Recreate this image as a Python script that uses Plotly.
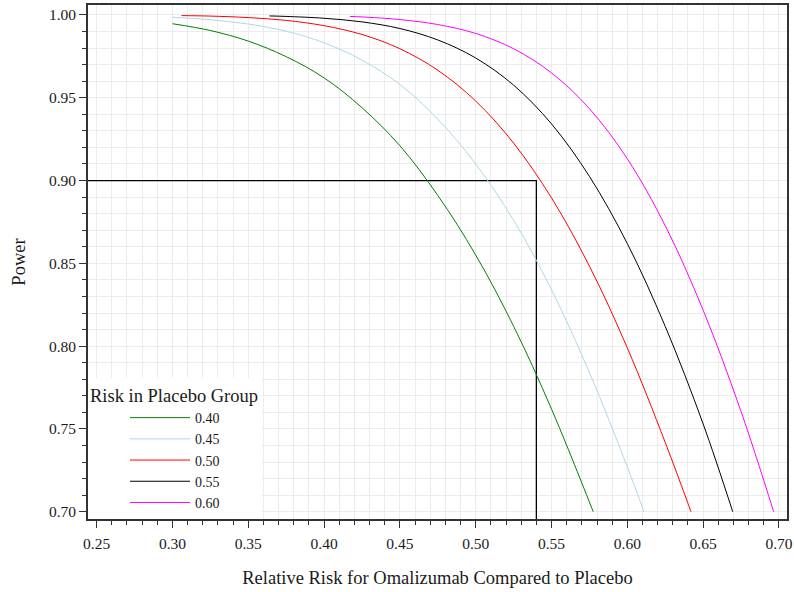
import plotly.graph_objects as go

# ---- data ----
rr_040 = [0.300, 0.325, 0.350, 0.375, 0.400, 0.425, 0.450, 0.475, 0.500, 0.525, 0.550, 0.5775]
pw_040 = [0.9947, 0.9906, 0.9842, 0.9748, 0.9620, 0.9440, 0.9210, 0.8910, 0.8550, 0.8120, 0.7620, 0.7000]

rr_045 = [0.300, 0.325, 0.350, 0.375, 0.400, 0.425, 0.450, 0.475, 0.500, 0.525, 0.550, 0.575, 0.600, 0.611]
pw_045 = [0.9986, 0.9971, 0.9945, 0.9902, 0.9832, 0.9727, 0.9580, 0.9370, 0.9100, 0.8760, 0.8340, 0.7840, 0.7270, 0.7000]

rr_050 = [0.306, 0.325, 0.350, 0.375, 0.400, 0.425, 0.450, 0.475, 0.500, 0.525, 0.550, 0.575, 0.600, 0.625, 0.642]
pw_050 = [0.9996, 0.9993, 0.9984, 0.9967, 0.9935, 0.9882, 0.9796, 0.9666, 0.9480, 0.9226, 0.8895, 0.8483, 0.7989, 0.7418, 0.7000]

rr_055 = [0.364, 0.375, 0.400, 0.425, 0.450, 0.475, 0.500, 0.525, 0.550, 0.575, 0.600, 0.625, 0.650, 0.6695]
pw_055 = [0.9994, 0.9991, 0.9980, 0.9958, 0.9918, 0.9849, 0.9740, 0.9576, 0.9342, 0.9025, 0.8619, 0.8119, 0.7530, 0.7000]

rr_060 = [0.417, 0.425, 0.450, 0.475, 0.500, 0.525, 0.550, 0.575, 0.600, 0.625, 0.650, 0.675, 0.6965]
pw_060 = [0.9991, 0.9988, 0.9972, 0.9942, 0.9888, 0.9796, 0.9650, 0.9434, 0.9131, 0.8727, 0.8217, 0.7605, 0.7000]

series_names = ["0.40", "0.45", "0.50", "0.55", "0.60"]
series_colors = ["green", "lightblue", "red", "black", "magenta"]
series_x = [rr_040, rr_045, rr_050, rr_055, rr_060]
series_y = [pw_040, pw_045, pw_050, pw_055, pw_060]

ref_rr = 0.54
ref_power = 0.90

x_range = [0.2443, 0.7053]
y_range = [0.6956, 1.006]
x_ticks = [0.25, 0.30, 0.35, 0.40, 0.45, 0.50, 0.55, 0.60, 0.65, 0.70]
y_ticks = [0.70, 0.75, 0.80, 0.85, 0.90, 0.95, 1.00]

FONT = "Liberation Serif"

fig = go.Figure()

# reference lines (power 0.90 at RR 0.54)
fig.add_trace(go.Scatter(
    x=[x_range[0], ref_rr, ref_rr], y=[ref_power, ref_power, y_range[0]],
    mode="lines", line=dict(color="black", width=1.3), showlegend=False,
    hoverinfo="skip"))

for name, color, xs, ys in zip(series_names, series_colors, series_x, series_y):
    fig.add_trace(go.Scatter(
        x=xs, y=ys, mode="lines", name=name,
        line=dict(color=color, width=1, shape="spline", smoothing=1.0)))

grid_col = "#ececec"
axis_common = dict(
    showline=True, linecolor="#333333", linewidth=1.6, mirror=True,
    ticks="outside", ticklen=7, tickwidth=1.2, tickcolor="#333333",
    showgrid=True, gridcolor=grid_col, gridwidth=1,
    zeroline=False, tickformat=".2f", automargin=False,
    tickfont=dict(family=FONT, size=15.5, color="#1a1a1a"),
    title_font=dict(family=FONT, size=18.5, color="#1a1a1a"),
)

fig.update_xaxes(
    **axis_common, range=x_range, tickvals=x_ticks,
    title_text="Relative Risk for Omalizumab Compared to Placebo",
    title_standoff=20, ticklabelstandoff=3,
    minor=dict(dtick=0.01, tick0=0.25, showgrid=True, gridcolor=grid_col, gridwidth=1,
               ticks="outside", ticklen=4, tickcolor="#333333"),
)
fig.update_yaxes(
    **axis_common, range=y_range, tickvals=y_ticks,
    title_text="Power", title_standoff=18,
    minor=dict(dtick=0.01, tick0=0.70, showgrid=True, gridcolor=grid_col, gridwidth=1,
               ticks="outside", ticklen=4, tickcolor="#333333"),
)

fig.update_layout(
    width=794, height=592,
    margin=dict(l=88, r=7, t=5, b=73),
    paper_bgcolor="white", plot_bgcolor="white",
    font=dict(family=FONT, size=15, color="#1a1a1a"),
    legend=dict(
        x=0, y=0, xanchor="left", yanchor="bottom",
        bgcolor="white", borderwidth=0,
        title=dict(text="Risk in Placebo Group", font=dict(family=FONT, size=18.5)),
        font=dict(family=FONT, size=14),
        itemwidth=60, tracegroupgap=0, indentation=37,
    ),
)

fig.write_html("out.html", config={"displayModeBar": False},
               post_script="document.body.style.margin='0px';")
